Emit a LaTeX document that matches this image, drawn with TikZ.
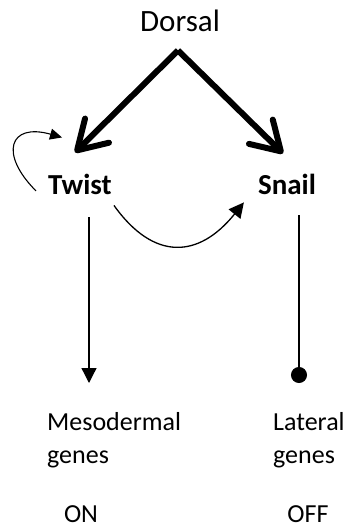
\documentclass[tikz,border=0pt]{standalone}
\usepackage{fontspec}
\setmainfont{Carlito}
\usepackage{tikz}
\usetikzlibrary{arrows.meta, calc}

\begin{document}
\begin{tikzpicture}[x=1pt, y=-1pt,
    gene/.style={inner sep=0pt, font=\fontsize{29}{34}\selectfont\bfseries},
    lbl/.style={inner sep=0pt, align=left, font=\fontsize{26}{33}\selectfont},
    bigArr/.style={line width=6pt, -{Straight Barb[length=28pt,width=34pt,round]}},
    act/.style={line width=1.3pt, -{Triangle[length=15pt,width=15pt]}},
    rep/.style={line width=1.3pt, -{Circle[length=16pt]}},
    loopArr/.style={line width=1.1pt, -{Triangle[length=12pt,width=11pt]}}]
  \useasboundingbox (0,0) rectangle (349,527);
  \node[inner sep=0pt, anchor=base, font=\fontsize{31}{36}\selectfont] (dorsal) at (180,32) {Dorsal};
  \node[gene, anchor=base] (twist) at (80,194) {Twist};
  \node[gene, anchor=base] (snail) at (287,194) {Snail};
  \node[lbl, anchor=north west] (meso) at (47,412) {Mesodermal\\genes};
  \node[lbl, anchor=north west] (lat) at (273,412) {Lateral\\genes};
  \node[lbl, anchor=base] (on) at (81,522) {ON};
  \node[lbl, anchor=base] (off) at (308,522) {OFF};
  \coordinate (apex) at ([xshift=-2pt, yshift=-18pt]dorsal.south);
  \coordinate (onTip) at (89,383);
  \coordinate (offTip) at (299,383);
  \draw[bigArr] (apex) -- ([xshift=-5pt, yshift=21pt]twist.north);
  \draw[bigArr] (apex) -- ([xshift=-4pt, yshift=20pt]snail.north);
  \draw[loopArr] ([shift={(-12,7)}]twist.west) .. controls +(-37,-37) and +(-53,-15) .. ([shift={(14,-36)}]twist.north west);
  \draw[act] ([shift={(2,11)}]twist.south east) .. controls +(40,56) and +(-45,56) .. ([shift={(-14,8)}]snail.south west);
  \draw[act, shorten <=23pt] (twist.south -| onTip) -- (onTip);
  \draw[rep, shorten <=21pt] (snail.south -| offTip) -- (offTip);
\end{tikzpicture}
\end{document}
